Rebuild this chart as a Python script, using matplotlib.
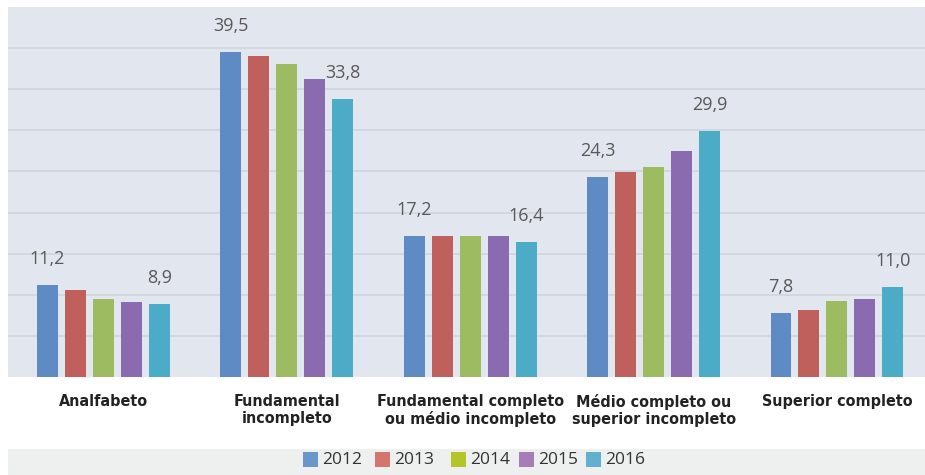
import numpy as np
import matplotlib.pyplot as plt
from matplotlib.patches import Rectangle

# data
categories = ['Analfabeto', 'Fundamental\nincompleto', 'Fundamental completo\nou médio incompleto',
              'Médio completo ou\nsuperior incompleto', 'Superior completo']
years = ['2012', '2013', '2014', '2015', '2016']
v2012 = [11.2, 39.5, 17.2, 24.3, 7.8]
v2013 = [10.6, 39.0, 17.2, 24.9, 8.1]
v2014 = [9.5, 38.1, 17.2, 25.6, 9.3]
v2015 = [9.1, 36.2, 17.2, 27.5, 9.5]
v2016 = [8.9, 33.8, 16.4, 29.9, 11.0]
series = [v2012, v2013, v2014, v2015, v2016]

bar_colors = ['#5f8bc4', '#c0605c', '#9dbb61', '#8a6bb0', '#4cabc7']
legend_colors = ['#6a97c9', '#d4756f', '#b4c52a', '#a67db6', '#62afd0']

fig = plt.figure(figsize=(9.25, 4.75), dpi=100)
ax = fig.add_axes([8 / 925, 1 - 377 / 475, 1 - 8 / 925, 370 / 475])
ax.set_facecolor('#e2e6ee')

x = np.arange(len(categories))
pitch = 0.1526
width = 0.1144
for i, vals in enumerate(series):
    ax.bar(x + (i - 2) * pitch, vals, width, color=bar_colors[i], zorder=3)

# value labels only on first and last year
for j in range(len(categories)):
    for i in (0, 4):
        ax.annotate(f"{series[i][j]:.1f}".replace('.', ','),
                    (x[j] + (i - 2) * pitch, series[i][j]),
                    xytext=(0, 26), textcoords='offset pixels',
                    ha='center', va='center', fontsize=13, color='#595959',
                    family='Open Sans', fontstretch='semi-condensed', zorder=4)

ax.set_ylim(0, 45)
ax.set_xlim(-0.52, 4.48)
ax.set_yticks(np.arange(5, 45, 5))
ax.yaxis.grid(True, color='#d0d4dc', linewidth=1.2, zorder=0)
ax.tick_params(axis='y', left=False, labelleft=False)
ax.set_xticks(x)
ax.set_xticklabels(categories, family='DejaVu Sans', fontstretch='condensed',
                   fontweight='bold', fontsize=11.5, color='#222222', linespacing=1.2)
ax.tick_params(axis='x', length=0, pad=12)
for s in ax.spines.values():
    s.set_visible(False)

# legend band
fig.add_artist(Rectangle((8 / 925, 0), 1, 26 / 475, transform=fig.transFigure,
                         facecolor='#eef0f0', edgecolor='none'))
leg_x = [303, 375, 451, 519, 586]
for i, yr in enumerate(years):
    fig.add_artist(Rectangle((leg_x[i] / 925, 8 / 475), 15 / 925, 15 / 475,
                             transform=fig.transFigure, facecolor=legend_colors[i],
                             edgecolor='none'))
    fig.text((leg_x[i] + 19) / 925, 15 / 475, yr, ha='left', va='center',
             fontsize=12.5, color='#333333', family='Open Sans',
             fontstretch='semi-condensed')

fig.savefig('out.png', dpi=100)
